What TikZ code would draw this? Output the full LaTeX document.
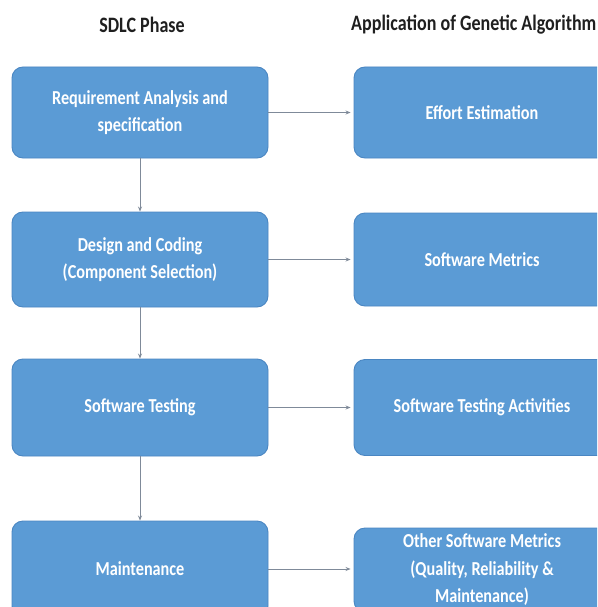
\documentclass[tikz,border=0pt]{standalone}
\usepackage{fontspec}
\setmainfont{Carlito}[FakeStretch=0.82]
\usetikzlibrary{arrows.meta}
\definecolor{phasefill}{HTML}{5B9BD5}
\definecolor{phaseedge}{HTML}{4A86C2}
\definecolor{linkgray}{HTML}{7F8A99}
\tikzset{
  phasebox/.style={draw=phaseedge, line width=0.9pt, fill=phasefill, rounded corners=11pt,
    minimum width=256pt, text=white, align=center, inner sep=0pt,
    font=\fontsize{19.8}{27.5}\selectfont\bfseries},
  heading/.style={font=\fontsize{22}{26}\selectfont\bfseries, text=black!88, inner sep=0pt},
  link/.style={draw=linkgray, line width=0.8pt, -{Stealth[length=5pt,width=4pt]}}
}
\begin{document}
\begin{tikzpicture}[x=1pt,y=-1pt]
  \useasboundingbox (0,0) rectangle (597,607);
  \clip (0,0) rectangle (597,607);
  \fill[white] (0,0) rectangle (597,607);

  % column headings
  \node[heading] (hsdlc) at (142,25) {SDLC Phase};
  \node[heading, anchor=west] (hga) at (351,25) {Application of Genetic Algorithm};

  % SDLC phases
  \node[phasebox, minimum height=91pt] (req) at (140,112.5) {Requirement Analysis and\\specification};
  \node[phasebox, minimum height=95pt] (des) at (140,259.5) {Design and Coding\\(Component Selection)};
  \node[phasebox, minimum height=97pt] (tst) at (140,407.5) {Software Testing};
  \node[phasebox, minimum height=96pt] (mnt) at (140,569) {Maintenance};

  % genetic algorithm applications
  \node[phasebox, minimum height=91pt] (eff) at (482,112.5) {Effort Estimation};
  \node[phasebox, minimum height=93pt] (met) at (482,259.5) {Software Metrics};
  \node[phasebox, minimum height=96pt] (sta) at (482,407.5) {Software Testing Activities};
  \node[phasebox, minimum height=84pt] (oth) at (482,570) {Other Software Metrics\\(Quality, Reliability \&\\Maintenance)};

  % phase sequence
  \draw[link] (req) -- (des);
  \draw[link] (des) -- (tst);
  \draw[link] (tst) -- (mnt);

  % phase to application
  \draw[link, shorten >=3pt] (req) -- (eff);
  \draw[link, shorten >=3pt] (des) -- (met);
  \draw[link, shorten >=3pt] (tst) -- (sta);
  \draw[link, shorten >=3pt] (mnt.east) -- (oth.west |- mnt.east);
\end{tikzpicture}
\end{document}
